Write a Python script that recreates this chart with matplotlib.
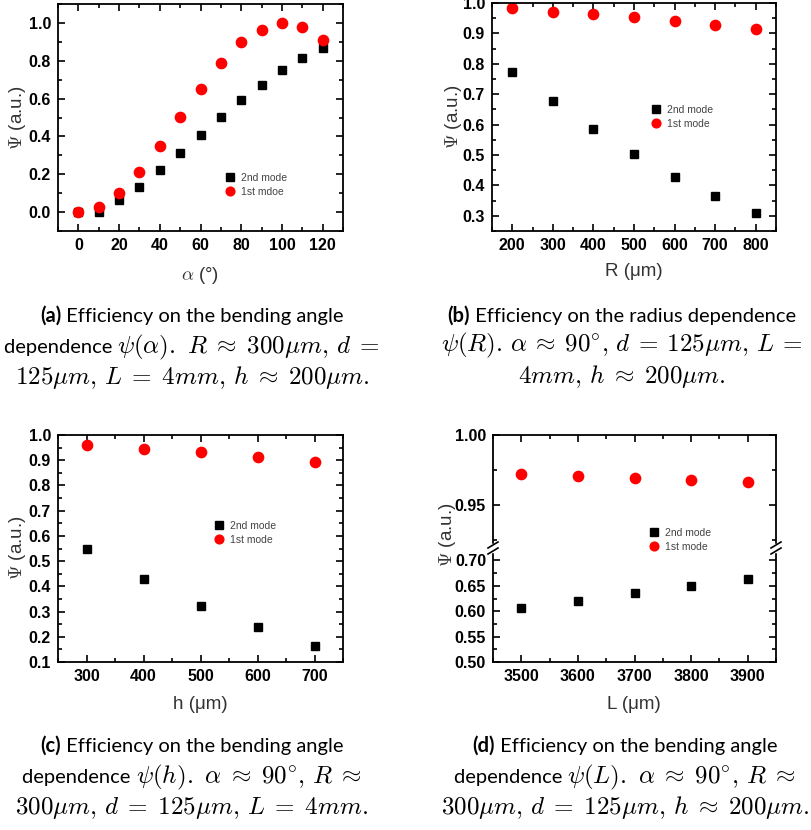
import numpy as np
import matplotlib
matplotlib.use("Agg")
import matplotlib.pyplot as plt
from matplotlib.lines import Line2D
from matplotlib.ticker import AutoMinorLocator, MultipleLocator

plt.rcParams['mathtext.fontset'] = 'cm'
plt.rcParams['font.family'] = ['Liberation Sans', 'DejaVu Sans']

# (a) bending angle
alpha = [0, 10, 20, 30, 40, 50, 60, 70, 80, 90, 100, 110, 120]
alpha_2nd = [0.0, 0.0, 0.063, 0.134, 0.22, 0.313, 0.408, 0.503, 0.592, 0.671, 0.75, 0.814, 0.87]
alpha_1st = [0.0, 0.026, 0.099, 0.21, 0.349, 0.502, 0.651, 0.789, 0.898, 0.965, 1.0, 0.979, 0.912]

# (b) radius
radius = [200, 300, 400, 500, 600, 700, 800]
radius_2nd = [0.772, 0.678, 0.586, 0.502, 0.429, 0.364, 0.309]
radius_1st = [0.982, 0.972, 0.964, 0.953, 0.940, 0.929, 0.915]

# (c) height
height = [300, 400, 500, 600, 700]
height_2nd = [0.549, 0.430, 0.324, 0.238, 0.165]
height_1st = [0.960, 0.946, 0.931, 0.914, 0.894]

# (d) length
length = [3500, 3600, 3700, 3800, 3900]
length_2nd = [0.606, 0.621, 0.636, 0.649, 0.663]
length_1st = [0.972, 0.9705, 0.969, 0.9676, 0.966]

W, H = 811, 830
fig = plt.figure(figsize=(W / 100, H / 100), dpi=100)


def box(l, r, t, b):
    return [l / W, 1 - b / H, (r - l) / W, (b - t) / H]


def style(ax, xmaj, ymaj, top=True, bottom=True):
    ax.xaxis.set_major_locator(MultipleLocator(xmaj))
    ax.xaxis.set_minor_locator(AutoMinorLocator(2))
    ax.yaxis.set_major_locator(MultipleLocator(ymaj))
    ax.yaxis.set_minor_locator(AutoMinorLocator(2))
    ax.tick_params(which='both', direction='in', top=top, bottom=bottom, right=True,
                   width=1.2, labelsize=11.5, labelbottom=bottom, pad=5)
    ax.tick_params(which='major', length=5)
    ax.tick_params(which='minor', length=3)
    for lab in ax.get_xticklabels() + ax.get_yticklabels():
        lab.set_fontweight('bold')
    for s in ax.spines.values():
        s.set_linewidth(1.3)


def draw(ax, x, y2, y1, lab1='1st mode'):
    ax.plot(x, y2, 's', color='black', ms=6, label='2nd mode')
    ax.plot(x, y1, 'o', color='red', ms=7.4, label=lab1)


def legend(ax, px, py):
    fig.legend(handles=ax.get_lines(), frameon=False, fontsize=7.5, handlelength=1.0,
               handletextpad=0.5, labelspacing=0.35, borderpad=0, borderaxespad=0,
               markerscale=0.85, loc='upper left', bbox_to_anchor=(px / W, 1 - py / H),
               bbox_transform=fig.transFigure, labelcolor='#444444')


ylab = r'$\Psi$ (a.u.)'
lab_kw = dict(fontsize=13.5, color='#333333', ha='center', va='center')


def xlabel(text, cx, cy):
    fig.text(cx / W, 1 - cy / H, text, **lab_kw)


def ylabel(cx, cy):
    fig.text(cx / W, 1 - cy / H, ylab, rotation=90, **lab_kw)


# (a)
ax1 = fig.add_axes(box(58, 343, 4, 231))
draw(ax1, alpha, alpha_2nd, alpha_1st, '1st mdoe')
ax1.set_xlim(-10, 130)
ax1.set_ylim(-0.1, 1.1)
style(ax1, 20, 0.2)
xlabel(r'$\mathrm{\alpha}$ (°)', 200, 275)
ylabel(17, 118)
legend(ax1, 225, 173)

# (b)
ax2 = fig.add_axes(box(492, 776, 3, 231))
draw(ax2, radius, radius_2nd, radius_1st)
ax2.set_xlim(150, 850)
ax2.set_ylim(0.25, 1.0)
style(ax2, 100, 0.1)
xlabel('R (μm)', 634, 272)
ylabel(453, 117)
legend(ax2, 651, 105)

# (c)
ax3 = fig.add_axes(box(58, 343, 435, 662))
draw(ax3, height, height_2nd, height_1st)
ax3.set_xlim(250, 750)
ax3.set_ylim(0.1, 1.0)
style(ax3, 100, 0.1)
xlabel('h (μm)', 200, 704)
ylabel(17, 548)
legend(ax3, 214, 521)

# (d) broken y axis
brk = 548
ax4t = fig.add_axes(box(493, 776, 435, brk))
ax4b = fig.add_axes(box(493, 776, brk, 662))
for a in (ax4t, ax4b):
    draw(a, length, length_2nd, length_1st)
    a.set_xlim(3450, 3950)
ax4t.set_ylim(0.919, 1.0)
ax4b.set_ylim(0.5, 0.7245)
ax4t.yaxis.set_major_formatter(plt.FormatStrFormatter('%.2f'))
ax4b.yaxis.set_major_formatter(plt.FormatStrFormatter('%.2f'))
style(ax4t, 100, 0.05, top=True, bottom=False)
style(ax4b, 100, 0.05, top=False, bottom=True)
ax4t.spines['bottom'].set_visible(False)
ax4b.spines['top'].set_visible(False)
xlabel('L (μm)', 634, 704)
ylabel(447, 535)
legend(ax4b, 649, 528)

# break marks
for xb in (493, 776):
    fig.lines.append(Line2D([xb / W, xb / W], [1 - (brk - 3) / H, 1 - (brk + 3) / H],
                            transform=fig.transFigure, color='white', lw=2.5, zorder=10))
    for dy in (-3, 3):
        fig.lines.append(Line2D([(xb - 5) / W, (xb + 5) / W],
                                [1 - (brk + dy + 3) / H, 1 - (brk + dy - 3) / H],
                                transform=fig.transFigure, color='black', lw=1.2, zorder=11))

# captions: text in Lato, math in Computer Modern
renderer = fig.canvas.get_renderer()
seg_kw = {
    'b': dict(fontsize=14.5, family=['Lato', 'DejaVu Sans'], fontweight='bold'),
    'r': dict(fontsize=14.5, family=['Lato', 'DejaVu Sans']),
    'm': dict(fontsize=18),
}


def cap_line(cx, y, segs):
    texts = [fig.text(0, 1 - y / H, s, va='baseline', **seg_kw[k]) for s, k in segs]
    widths = [t.get_window_extent(renderer).width for t in texts]
    x = cx - sum(widths) / 2
    for t, w in zip(texts, widths):
        t.set_x(x / W)
        x += w


caps = [
    (192, [321.7, 353.3, 384], [
        [('(a)', 'b'), (' Efficiency on the bending angle', 'r')],
        [('dependence ', 'r'),
         (r'$\psi(\alpha).\ R\;\approx\;300\mu m,\,d\;=$', 'm')],
        [(r'$125\mu m,\,L\;=\;4mm,\,h\;\approx\;200\mu m.$', 'm')],
    ]),
    (622, [321.7, 351.7, 383.3], [
        [('(b)', 'b'), (' Efficiency on the radius dependence', 'r')],
        [(r'$\psi(R).\,\alpha\:\approx\:90^{\circ},\,d\:=\:125\mu m,\,L\:=$', 'm')],
        [(r'$4mm,\,h\;\approx\;200\mu m.$', 'm')],
    ]),
    (192, [751.7, 783.3, 814], [
        [('(c)', 'b'), (' Efficiency on the bending angle', 'r')],
        [('dependence ', 'r'),
         (r'$\psi(h).\ \alpha\;\approx\;90^{\circ},\,R\;\approx$', 'm')],
        [(r'$300\mu m,\,d\;=\;125\mu m,\,L\;=\;4mm.$', 'm')],
    ]),
    (625, [751.7, 783.3, 814], [
        [('(d)', 'b'), (' Efficiency on the bending angle', 'r')],
        [('dependence ', 'r'),
         (r'$\psi(L).\ \alpha\;\approx\;90^{\circ},\,R\;\approx$', 'm')],
        [(r'$300\mu m,\,d\;=\;125\mu m,\,h\;\approx\;200\mu m.$', 'm')],
    ]),
]
for cx, ys, lines in caps:
    for y, segs in zip(ys, lines):
        cap_line(cx, y, segs)

fig.savefig('out.png', dpi=100)
